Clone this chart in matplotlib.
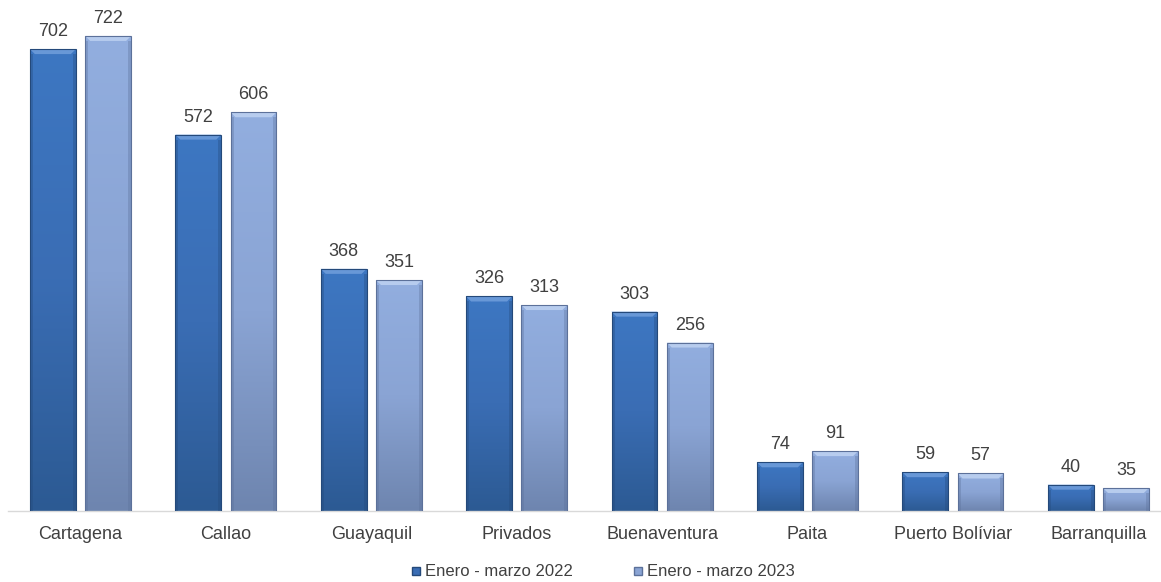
import matplotlib
matplotlib.use("Agg")
import matplotlib.pyplot as plt
import numpy as np
from matplotlib.colors import LinearSegmentedColormap
from matplotlib.patches import Rectangle, Polygon
from matplotlib.lines import Line2D

categories = ["Cartagena", "Callao", "Guayaquil", "Privados", "Buenaventura",
              "Paita", "Puerto Bolíviar", "Barranquilla"]
serie_2022 = [702, 572, 368, 326, 303, 74, 59, 40]
serie_2023 = [722, 606, 351, 313, 256, 91, 57, 35]
series_names = ["Enero - marzo 2022", "Enero - marzo 2023"]

plt.rcParams['font.family'] = ['Liberation Sans', 'DejaVu Sans']

W, H = 1161, 582
fig = plt.figure(figsize=(W/100, H/100), dpi=100)
ax = fig.add_axes([8/W, (H-511)/H, (1161-8)/W, 511/H])

px_per_cat = 145.4
xl = -(80.5-8)/px_per_cat
ax.set_xlim(xl, xl + (1161-8)/px_per_cat)
ymax = 511/0.658
ax.set_ylim(0, ymax)

bw = 0.316
off = 0.19
styles = [
    dict(top="#3D77C2", mid="#3A6DB4", bot="#2C5A93", edge="#24497A", bevel="#6E9CDA"),
    dict(top="#92AEDF", mid="#8AA4D4", bot="#6E85AF", edge="#5C719A", bevel="#BCD0F0"),
]

units_per_px_y = ymax/511
units_per_px_x = 1/px_per_cat

def draw_bar(x0, h, st):
    cmap = LinearSegmentedColormap.from_list("g", [st["bot"], st["mid"], st["top"]])
    rect = Rectangle((x0, 0), bw, h, facecolor="none", edgecolor="none")
    ax.add_patch(rect)
    grad = np.linspace(0, 1, 256).reshape(-1, 1)
    im = ax.imshow(grad, cmap=cmap, origin="lower", aspect="auto",
                   extent=(x0, x0+bw, 0, h), zorder=2, interpolation="bicubic")
    im.set_clip_path(rect)
    bh = 5*units_per_px_y
    bx = 5*units_per_px_x
    bev = Polygon([(x0, h), (x0+bw, h), (x0+bw-bx, h-bh), (x0+bx, h-bh)],
                  closed=True, facecolor=st["bevel"], edgecolor="none", zorder=3, alpha=0.9)
    ax.add_patch(bev)
    sx = 3*units_per_px_x
    ax.add_patch(Rectangle((x0, 0), sx, h-bh, facecolor=st["edge"], alpha=0.35,
                           edgecolor="none", zorder=3))
    ax.add_patch(Rectangle((x0+bw-sx, 0), sx, h-bh, facecolor=st["edge"], alpha=0.35,
                           edgecolor="none", zorder=3))
    ax.add_patch(Rectangle((x0, 0), bw, h, facecolor="none", edgecolor=st["edge"],
                           linewidth=0.8, zorder=4))

x = np.arange(len(categories))
for i, (vals, st) in enumerate(zip([serie_2022, serie_2023], styles)):
    o = -off if i == 0 else off
    for xi, v in zip(x, vals):
        draw_bar(xi + o - bw/2, v, st)
        ax.text(xi + o, v + 9*units_per_px_y, str(v), ha="center", va="bottom",
                fontsize=13, color="#404040", zorder=5)

ax.set_xticks(x)
ax.set_xticklabels(categories, fontsize=13, color="#404040")
ax.tick_params(axis="x", length=0, pad=11)
ax.set_yticks([])
for s in ["top", "right", "left"]:
    ax.spines[s].set_visible(False)
ax.spines["bottom"].set_color("#D9D9D9")
ax.spines["bottom"].set_linewidth(1.0)
ax.set_facecolor("white")

handles = [Line2D([], [], marker="s", linestyle="none", markersize=6,
                  markerfacecolor=styles[0]["mid"], markeredgecolor=styles[0]["edge"]),
           Line2D([], [], marker="s", linestyle="none", markersize=6,
                  markerfacecolor=styles[1]["mid"], markeredgecolor=styles[1]["edge"])]
leg = fig.legend(handles, series_names, loc="center", bbox_to_anchor=(603/W, 1-572/H),
                 ncol=2, frameon=False, fontsize=12, handlelength=0.6,
                 handletextpad=0.25, columnspacing=3.6)
for t in leg.get_texts():
    t.set_color("#404040")

fig.savefig("out.png", dpi=100)
